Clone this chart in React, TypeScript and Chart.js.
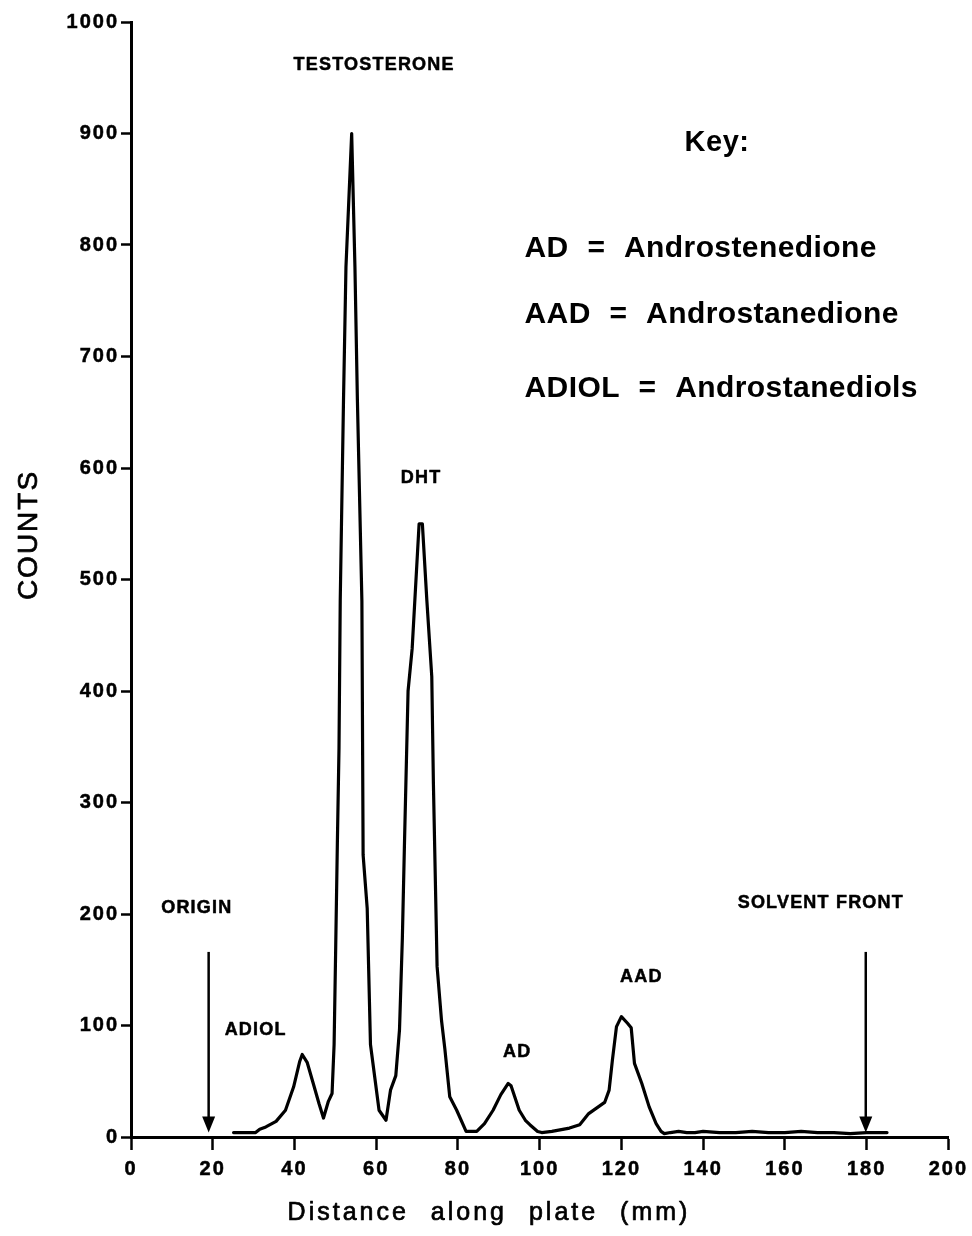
import { useEffect, useRef } from "react";
import { Chart, registerables } from "chart.js";

Chart.register(...registerables);

// ---- data ----
const distanceMm = [
  25.1, 28, 30.5, 31.5, 33, 35.5, 37.8, 39.8, 41.3, 41.9, 43.1, 44.6, 46, 47.1, 48.3, 49.2,
  49.7, 50.1, 50.5, 50.9, 51.2, 52, 52.6, 54, 54.8, 55.4, 56.5, 56.8, 57.8, 58.6, 60.7, 62.4,
  63.5, 64.8, 65.7, 66.4, 66.9, 67.8, 68.8, 70.5, 71.3, 72.4, 73.6, 74, 74.9, 76, 76.8, 78,
  79.7, 82, 84.6, 86.5, 88.6, 90.5, 92.3, 93, 95, 96.5, 97.6, 99.5, 100.5, 103, 107.3, 109.8,
  112, 115.9, 117, 117.8, 118.8, 120, 121.5, 122.4, 123.2, 125, 126.8, 128.5, 129.7, 130.5,
  132, 134, 136, 138, 140, 144, 148, 152, 156, 160, 164, 168, 172, 176, 180, 185,
];
const counts = [
  4, 4, 4, 7, 9, 14, 24, 45, 68, 74, 67, 48, 30, 17, 32, 39,
  83, 172, 264, 349, 481, 661, 780, 900, 780, 661, 481, 253, 205, 83, 24, 15,
  42, 55, 96, 178, 260, 400, 438, 550, 550, 481, 413, 317, 153, 104, 79, 36,
  24, 5, 5, 12, 24, 38, 48, 46, 24, 15, 11, 5, 4, 5, 8, 11,
  21, 31, 42, 69, 99, 108, 102, 98, 66, 48, 27, 12, 5, 3,
  4, 5, 4, 4, 5, 4, 4, 5, 4, 4, 5, 4, 4, 3, 4, 4,
];

const xTickValues = [0, 20, 40, 60, 80, 100, 120, 140, 160, 180, 200];
const yTickValues = [0, 100, 200, 300, 400, 500, 600, 700, 800, 900, 1000];

const peakNames = ["TESTOSTERONE", "DHT", "ORIGIN", "ADIOL", "AD", "AAD", "SOLVENT FRONT"];
const peakNameX = [59.5, 71.0, 16.1, 30.5, 94.5, 124.9, 168.8];
const peakNameY = [957, 586.5, 201, 91.5, 71.7, 139, 205.4];

const arrowX = [19, 179.8];
const arrowTop = 166;
const arrowTip = 4;

const keyTitle = "Key:";
const keyRows = ["AD = Androstenedione", "AAD = Androstanedione", "ADIOL = Androstanediols"];
const keyTitleX = 143.4;
const keyTitleY = 884;
const keyRowX = 96.3;
const keyRowY = [789, 730, 663.7];

const xAxisTitle = "Distance along plate (mm)";
const yAxisTitle = "COUNTS";

const SANS = '"Liberation Sans", Arial, Helvetica, sans-serif';

function heavyText(ctx: any, t: string, x: number, y: number, w: number) {
  ctx.fillText(t, x, y);
  if (w > 0) {
    ctx.lineWidth = w;
    ctx.strokeText(t, x, y);
  }
}

const annotationPlugin = {
  id: "annotations",
  beforeDraw(chart: any) {
    (chart.ctx as any).letterSpacing = "2px";
  },
  afterDraw(chart: any) {
    const ctx = chart.ctx as any;
    const xs = chart.scales.x;
    const ys = chart.scales.y;
    ctx.save();
    ctx.fillStyle = "#000";
    ctx.strokeStyle = "#000";
    ctx.lineJoin = "round";

    // peak / marker labels
    ctx.font = `bold 18px ${SANS}`;
    ctx.letterSpacing = "1.2px";
    ctx.wordSpacing = "0px";
    ctx.textAlign = "center";
    ctx.textBaseline = "alphabetic";
    peakNames.forEach((t, i) => {
      heavyText(ctx, t, xs.getPixelForValue(peakNameX[i]), ys.getPixelForValue(peakNameY[i]), 0.5);
    });

    // arrows
    arrowX.forEach((ax) => {
      const px = xs.getPixelForValue(ax);
      const top = ys.getPixelForValue(arrowTop);
      const tip = ys.getPixelForValue(arrowTip);
      ctx.lineWidth = 2.5;
      ctx.beginPath();
      ctx.moveTo(px, top);
      ctx.lineTo(px, tip - 10);
      ctx.stroke();
      ctx.beginPath();
      ctx.moveTo(px - 6.5, tip - 16);
      ctx.lineTo(px + 6.5, tip - 16);
      ctx.lineTo(px, tip);
      ctx.closePath();
      ctx.fill();
    });

    // key
    ctx.font = `bold 29px ${SANS}`;
    ctx.letterSpacing = "0.5px";
    ctx.textAlign = "center";
    ctx.fillText(keyTitle, xs.getPixelForValue(keyTitleX), ys.getPixelForValue(keyTitleY));
    ctx.font = `bold 30px ${SANS}`;
    ctx.letterSpacing = "0.4px";
    ctx.wordSpacing = "10px";
    ctx.textAlign = "left";
    keyRows.forEach((t, i) => {
      ctx.fillText(t, xs.getPixelForValue(keyRowX), ys.getPixelForValue(keyRowY[i]));
    });

    // axis titles
    ctx.font = `25px ${SANS}`;
    ctx.letterSpacing = "3px";
    ctx.wordSpacing = "12px";
    ctx.textAlign = "center";
    heavyText(ctx, xAxisTitle, 489, 1220, 0.7);

    ctx.save();
    ctx.translate(37, 535);
    ctx.rotate(-Math.PI / 2);
    ctx.font = `28px ${SANS}`;
    ctx.letterSpacing = "2px";
    ctx.wordSpacing = "0px";
    ctx.textAlign = "center";
    heavyText(ctx, yAxisTitle, 0, 0, 0.7);
    ctx.restore();

    ctx.restore();
    ctx.letterSpacing = "0px";
    ctx.wordSpacing = "0px";
  },
};

export default function App() {
  const canvasRef = useRef<HTMLCanvasElement | null>(null);

  useEffect(() => {
    document.body.style.margin = "0";
    const canvas = canvasRef.current;
    if (!canvas) return;
    const tickFont = { family: SANS, weight: "bold" as const, size: 20 };
    const chart = new Chart(canvas, {
      type: "scatter",
      data: {
        datasets: [
          {
            data: distanceMm.map((d, i) => ({ x: d, y: counts[i] })),
            showLine: true,
            borderColor: "#000",
            borderWidth: 3.2,
            borderJoinStyle: "round",
            borderCapStyle: "round",
            pointRadius: 0,
            tension: 0,
            fill: false,
          },
        ],
      },
      options: {
        animation: false,
        responsive: false,
        maintainAspectRatio: false,
        layout: { padding: { top: 22, right: 22, left: 0, bottom: 0 } },
        plugins: { legend: { display: false }, tooltip: { enabled: false } },
        scales: {
          x: {
            type: "linear",
            min: 0,
            max: 200,
            afterBuildTicks: (s: any) => {
              s.ticks = xTickValues.map((v) => ({ value: v }));
            },
            afterFit: (s: any) => {
              s.height = 99;
            },
            grid: {
              display: true,
              drawOnChartArea: false,
              drawTicks: true,
              tickLength: 13,
              tickColor: "#000",
              tickWidth: 2.5,
            },
            border: { display: true, color: "#000", width: 3 },
            ticks: {
              color: "#000",
              font: tickFont,
              padding: 7,
              maxRotation: 0,
              autoSkip: false,
              textStrokeColor: "#000",
              textStrokeWidth: 0.5,
              callback: (v: any) => String(v),
            },
          },
          y: {
            type: "linear",
            min: 0,
            max: 1000,
            afterBuildTicks: (s: any) => {
              s.ticks = yTickValues.map((v) => ({ value: v }));
            },
            afterFit: (s: any) => {
              s.width = 131;
            },
            grid: {
              display: true,
              drawOnChartArea: false,
              drawTicks: true,
              tickLength: 10,
              tickColor: "#000",
              tickWidth: 2.5,
            },
            border: { display: true, color: "#000", width: 3 },
            ticks: {
              color: "#000",
              font: tickFont,
              padding: 2,
              autoSkip: false,
              textStrokeColor: "#000",
              textStrokeWidth: 0.5,
              callback: (v: any) => String(v),
            },
          },
        },
      },
      plugins: [annotationPlugin],
    } as any);
    return () => chart.destroy();
  }, []);

  return (
    <div style={{ width: 972, height: 1236 }}>
      <canvas ref={canvasRef} width={972} height={1236} style={{ display: "block" }} />
    </div>
  );
}
